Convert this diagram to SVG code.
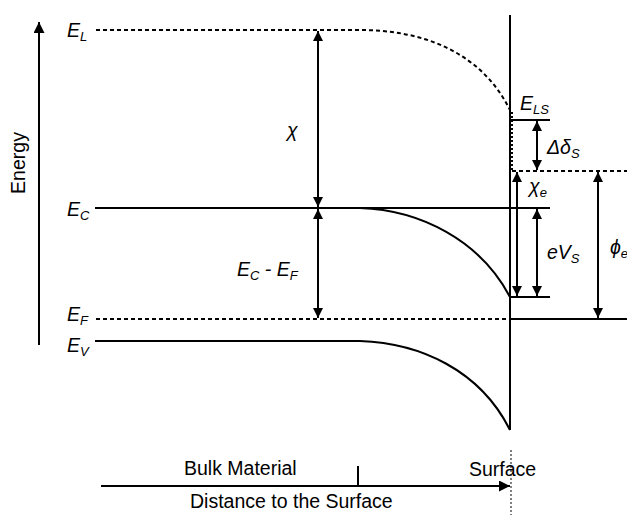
<svg xmlns="http://www.w3.org/2000/svg" width="627" height="515" viewBox="0 0 627 515">
<defs>
<marker id="ahb" viewBox="0 0 10 10" refX="10" refY="5" markerWidth="13" markerHeight="10" markerUnits="userSpaceOnUse" orient="auto-start-reverse"><path d="M0,0 L10,5 L0,10 z" fill="#000"/></marker>
<marker id="ahc" viewBox="0 0 10 10" refX="10" refY="5" markerWidth="16" markerHeight="11" markerUnits="userSpaceOnUse" orient="auto-start-reverse"><path d="M0,0 L10,5 L0,10 z" fill="#000"/></marker>
</defs>
<style>
.s{stroke:#000;stroke-width:2;fill:none}
.d{stroke:#000;stroke-width:2;fill:none;stroke-dasharray:4 3}
.t{font-family:"Liberation Sans",Arial,sans-serif;font-size:19.5px;fill:#000}
.i{font-family:"Liberation Sans",Arial,sans-serif;font-size:19.5px;font-style:italic;fill:#000}
.sub{font-size:13px}
.arr{stroke:#000;stroke-width:2;fill:none;marker-start:url(#ahb);marker-end:url(#ahb)}
</style>
<g id="energy-axis">
<line class="s" x1="39" y1="345" x2="39" y2="22" marker-end="url(#ahc)"/>
<text class="t" transform="translate(25,163) rotate(-90)" text-anchor="middle" font-size="20px">Energy</text>
</g>
<g id="surface">
<line class="s" x1="510" y1="15" x2="510" y2="430"/>
<line x1="512" y1="112" x2="512" y2="170" stroke="#000" stroke-width="2" stroke-dasharray="2 2"/>
</g>
<g id="EL">
<text class="i" x="67" y="37">E<tspan class="sub" dy="4">L</tspan></text>
<path class="d" d="M96,30 H360 C420,30 480,50 510,110"/>
</g>
<g id="ELS">
<text class="i" x="520" y="110">E<tspan class="sub" dy="4">LS</tspan></text>
<line class="s" x1="510" y1="120" x2="550" y2="120"/>
</g>
<g id="vacuum">
<line class="d" x1="512" y1="171" x2="627" y2="171"/>
</g>
<g id="EC">
<text class="i" x="67" y="216">E<tspan class="sub" dy="4">C</tspan></text>
<line class="s" x1="95" y1="208" x2="550" y2="208"/>
<path class="s" d="M360,208 C420,210 480,240 510,297"/>
<line class="s" x1="510" y1="297" x2="550" y2="297"/>
</g>
<g id="EF">
<text class="i" x="67" y="321">E<tspan class="sub" dy="4">F</tspan></text>
<line class="d" x1="96" y1="319" x2="510" y2="319"/>
<line class="s" x1="510" y1="319" x2="627" y2="319"/>
</g>
<g id="EV">
<text class="i" x="67" y="352">E<tspan class="sub" dy="4">V</tspan></text>
<line class="s" x1="95" y1="341" x2="360" y2="341"/>
<path class="s" d="M360,341 C420,343 480,370 510,430"/>
</g>
<g id="connectors">
<line class="arr" x1="318" y1="31" x2="318" y2="207"/>
<line class="arr" x1="318" y1="209" x2="318" y2="318"/>
<line class="arr" x1="537" y1="121" x2="537" y2="170"/>
<line class="arr" x1="517" y1="172" x2="517" y2="296"/>
<line class="arr" x1="537" y1="209" x2="537" y2="296"/>
<line class="arr" x1="598" y1="172" x2="598" y2="318"/>
</g>
<g id="labels">
<text class="i" x="287" y="137" font-size="24">χ</text>
<text class="i" x="237" y="276">E<tspan class="sub" dy="4">C</tspan><tspan dy="-4"> - E</tspan><tspan class="sub" dy="4">F</tspan></text>
<text class="i" x="547" y="154">Δδ<tspan class="sub" dy="4">S</tspan></text>
<text class="i" x="529" y="193" font-size="22">χ<tspan class="sub" dy="4">e</tspan></text>
<text class="i" x="547" y="259" font-size="20">eV<tspan class="sub" dy="4">S</tspan></text>
<text class="i" x="610" y="254" font-size="24">ϕ<tspan class="sub" dy="4" font-size="15">e</tspan></text>
</g>
<g id="distance-axis">
<line class="s" x1="101" y1="486" x2="510" y2="486" marker-end="url(#ahc)"/>
<line class="s" x1="358" y1="466" x2="358" y2="486"/>
<line x1="511" y1="450" x2="511" y2="515" stroke="#000" stroke-width="1" stroke-dasharray="2 2"/>
<text class="t" x="184" y="475">Bulk Material</text>
<text class="t" x="469" y="476">Surface</text>
<text class="t" x="190" y="508">Distance to the Surface</text>
</g>
</svg>
